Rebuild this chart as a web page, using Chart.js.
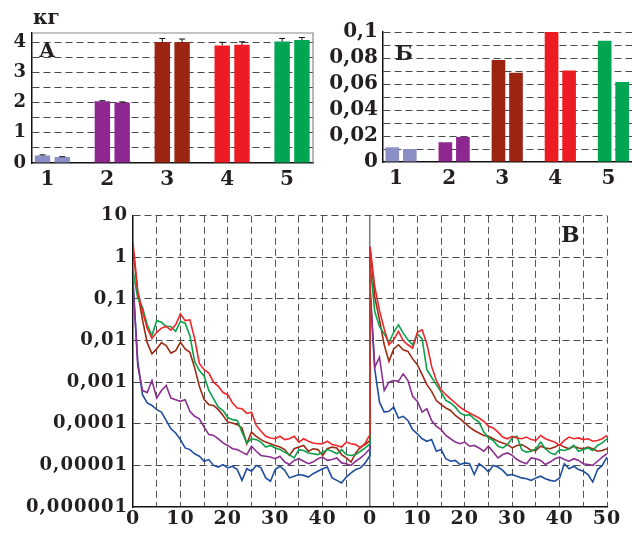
<!DOCTYPE html>
<html>
<head>
<meta charset="utf-8">
<script src="https://cdn.jsdelivr.net/npm/chart.js@4/dist/chart.umd.min.js"></script>
<style>
html, body { margin: 0; padding: 0; background: #fff; }
#wrap { position: relative; width: 632px; height: 536px; overflow: hidden; }
canvas { position: absolute; }
</style>
</head>
<body>
<div id="wrap">
  <canvas id="chartA" width="320" height="200" style="left:0;top:0"></canvas>
  <canvas id="chartB" width="312" height="200" style="left:320px;top:0"></canvas>
  <canvas id="chartC" width="632" height="336" style="left:0;top:200px"></canvas>
</div>
<script>
// ---- panels A and B: bars ----
var groups = [1, 2, 3, 4, 5];
var barColors = ['#8b8fc6', '#8e278f', '#9b2412', '#ed1c24', '#00a651'];
var massA1 = [0.25, 2.04, 4.0, 3.89, 4.02];
var massA2 = [0.2, 2.0, 4.0, 3.91, 4.07];
var errA1 = [0.02, 0.02, 0.12, 0.1, 0.1];
var errA2 = [0.01, 0.02, 0.1, 0.1, 0.08];
var massB1 = [0.0113, 0.0152, 0.0784, 0.1, 0.0933];
var massB2 = [0.0100, 0.0193, 0.0686, 0.0704, 0.0616];
var yTicksA = [0, 1, 2, 3, 4];
var yTicksB = [0, 0.02, 0.04, 0.06, 0.08, 0.1];
var yLabelsB = ['0', '0,02', '0,04', '0,06', '0,08', '0,1'];

// ---- panel C: two runs of 50 time units, values as log10 ----
var minutes = [0, 1, 2, 3, 4, 5, 6, 7, 8, 9, 10, 11, 12, 13, 14, 15, 16, 17, 18, 19, 20,
  21, 22, 23, 24, 25, 26, 27, 28, 29, 30, 31, 32, 33, 34, 35, 36, 37, 38, 39, 40,
  41, 42, 43, 44, 45, 46, 47, 48, 49, 50];

var redLog1 = [0.36, -0.8, -1.3, -1.7, -1.95, -1.8, -1.7, -1.66, -1.75, -1.62, -1.36,
  -1.52, -1.5, -1.95, -2.55, -2.7, -2.78, -3.0, -3.1, -3.25, -3.3,
  -3.5, -3.62, -3.64, -3.75, -3.72, -4.04, -4.18, -4.3, -4.34, -4.36,
  -4.3, -4.38, -4.36, -4.3, -4.44, -4.36, -4.42, -4.46, -4.48, -4.48,
  -4.42, -4.5, -4.52, -4.56, -4.44, -4.48, -4.5, -4.58, -4.46, -4.26];
var brownLog1 = [0.2, -0.85, -1.5, -2.05, -2.32, -2.2, -2.05, -2.12, -2.3, -2.24, -2.04,
  -2.2, -2.28, -2.65, -3.1, -3.42, -3.54, -3.56, -3.66, -3.8, -3.96,
  -3.98, -4.02, -4.1, -4.48, -4.2, -4.3, -4.38, -4.44, -4.48, -4.52,
  -4.56, -4.62, -4.76, -4.6, -4.56, -4.52, -4.66, -4.6, -4.62, -4.76,
  -4.6, -4.56, -4.58, -4.74, -4.82, -4.92, -4.7, -4.56, -4.5, -4.4];
var greenLog1 = [-0.32, -0.98, -1.2, -1.62, -1.88, -1.52, -1.56, -1.66, -1.66, -1.78, -1.54,
  -1.58, -1.88, -2.5, -2.72, -2.85, -3.2, -3.4, -3.6, -3.68, -3.85,
  -3.9, -3.92, -4.2, -4.46, -4.36, -4.38, -4.44, -4.56, -4.52, -4.58,
  -4.62, -4.68, -4.74, -4.82, -4.62, -4.64, -4.7, -4.72, -4.74, -4.68,
  -4.62, -4.66, -4.72, -4.62, -4.74, -4.76, -4.74, -4.66, -4.58, -4.48];
var purpleLog1 = [-0.6, -2.6, -3.2, -3.25, -2.96, -3.38, -3.2, -3.08, -3.38, -3.42, -3.46,
  -3.42, -3.7, -3.82, -3.88, -4.08, -4.26, -4.28, -4.36, -4.46, -4.52,
  -4.6, -4.62, -4.68, -4.74, -4.54, -4.66, -4.76, -4.78, -4.8, -4.84,
  -4.78, -4.92, -4.98, -4.88, -4.84, -4.9, -4.96, -4.92, -4.84, -4.8,
  -4.88, -4.86, -4.82, -4.94, -4.96, -5.0, -4.9, -4.82, -4.72, -4.6];
var blueLog1 = [-0.58, -2.5, -3.3, -3.5, -3.56, -3.66, -3.72, -3.92, -4.12, -4.22, -4.38,
  -4.58, -4.62, -4.72, -4.78, -4.9, -4.86, -5.0, -5.04, -4.98, -5.06,
  -5.02, -5.1, -5.36, -5.08, -5.14, -5.0, -5.06, -5.3, -5.38, -5.1,
  -5.02, -5.12, -5.3, -5.26, -5.22, -5.24, -5.28, -5.2, -5.14, -5.08,
  -5.04, -5.3, -5.36, -5.42, -5.28, -5.18, -5.1, -5.06, -4.94, -4.76];

var redLog2 = [0.26, -0.7, -1.28, -1.72, -2.1, -1.98, -1.78, -2.0, -2.1, -2.18, -1.8,
  -1.74, -2.08, -2.62, -2.96, -3.18, -3.3, -3.4, -3.5, -3.6, -3.68,
  -3.74, -3.8, -3.86, -3.94, -4.06, -4.1, -4.2, -4.32, -4.36, -4.3,
  -4.34, -4.36, -4.32, -4.38, -4.4, -4.28, -4.36, -4.4, -4.44, -4.52,
  -4.4, -4.32, -4.36, -4.34, -4.38, -4.36, -4.42, -4.4, -4.36, -4.28];
var brownLog2 = [0.24, -0.95, -1.5, -2.1, -2.5, -2.2, -2.1, -2.22, -2.26, -2.44, -2.58,
  -2.82, -3.06, -3.22, -3.44, -3.54, -3.62, -3.68, -3.8, -3.88, -3.98,
  -4.08, -4.16, -4.22, -4.28, -4.3, -4.36, -4.42, -4.46, -4.5, -4.58,
  -4.52, -4.5, -4.56, -4.64, -4.64, -4.54, -4.58, -4.6, -4.56, -4.5,
  -4.56, -4.6, -4.54, -4.58, -4.6, -4.56, -4.6, -4.66, -4.64, -4.6];
var greenLog2 = [-0.12, -1.3, -1.66, -1.84, -2.04, -1.8, -1.62, -1.82, -1.98, -2.1, -1.84,
  -1.96, -2.7, -2.88, -3.06, -3.24, -3.44, -3.5, -3.6, -3.74, -3.8,
  -3.78, -3.88, -3.96, -4.2, -4.34, -4.4, -4.54, -4.58, -4.5, -4.34,
  -4.3, -4.62, -4.68, -4.66, -4.6, -4.44, -4.6, -4.7, -4.74, -4.62,
  -4.64, -4.6, -4.52, -4.66, -4.62, -4.58, -4.64, -4.52, -4.46, -4.36];
var purpleLog2 = [-0.68, -2.64, -2.4, -3.2, -3.0, -2.96, -2.98, -2.8, -2.96, -3.34, -3.46,
  -3.72, -3.64, -3.92, -4.06, -4.14, -4.28, -4.36, -4.44, -4.48, -4.44,
  -4.54, -4.52, -4.58, -4.66, -4.54, -4.68, -4.82, -4.74, -4.7, -4.76,
  -4.86, -4.92, -4.96, -4.82, -4.84, -4.88, -4.98, -4.92, -4.84, -4.8,
  -4.86, -4.9, -4.84, -4.88, -4.96, -4.98, -5.0, -4.9, -4.8, -4.72];
var blueLog2 = [-0.76, -2.68, -3.48, -3.72, -3.7, -3.6, -3.86, -3.82, -3.92, -4.14, -4.24,
  -4.36, -4.42, -4.38, -4.66, -4.62, -4.84, -4.9, -4.88, -4.98, -4.94,
  -4.96, -5.22, -4.96, -5.04, -5.16, -5.0, -5.04, -5.12, -5.24, -5.22,
  -5.26, -5.3, -5.32, -5.36, -5.3, -5.26, -5.32, -5.36, -5.38, -5.3,
  -4.96, -5.08, -5.02, -5.1, -5.14, -5.22, -5.4, -5.1, -5.0, -4.8];

var yTicksC = [1e-6, 1e-5, 1e-4, 1e-3, 1e-2, 1e-1, 1, 10];
var yLabelsC = ['0,000001', '0,00001', '0,0001', '0,001', '0,01', '0,1', '1', '10'];
var xTickValuesC = [0, 10, 20, 30, 40, 50, 60, 70, 80, 90, 100];
var xTickLabelsC = ['0', '10', '20', '30', '40', '0', '10', '20', '30', '40', '50'];

var ink = '#231f20';
var gridColor = '#4a4a4a';
var dashPattern = [7, 4];
var serif = 'DejaVu Serif';

// small helpers drawn on top of the charts
var panelText = {
  id: 'panelText',
  beforeUpdate: function (chart, args, opts) { if (opts.spacing) chart.ctx.letterSpacing = opts.spacing; },
  beforeDraw: function (chart, args, opts) { if (opts.spacing) chart.ctx.letterSpacing = opts.spacing; },
  afterDraw: function (chart, args, opts) {
    var ctx = chart.ctx, area = chart.chartArea;
    ctx.save();
    if (opts.frame) {
      ctx.strokeStyle = opts.frame;
      ctx.lineWidth = 1.2;
      ctx.beginPath();
      ctx.moveTo(area.left, area.top);
      ctx.lineTo(area.right, area.top);
      ctx.lineTo(area.right, area.bottom);
      ctx.stroke();
    }
    ctx.fillStyle = ink;
    ctx.textBaseline = 'middle';
    (opts.items || []).forEach(function (it) {
      ctx.font = it.font;
      ctx.textAlign = 'left';
      ctx.fillText(it.text, it.x, it.y);
    });
    ctx.restore();
  }
};

var whiskers = {
  id: 'whiskers',
  afterDatasetsDraw: function (chart, args, opts) {
    if (!opts.errors) return;
    var ctx = chart.ctx, yScale = chart.scales.y;
    ctx.save();
    ctx.strokeStyle = '#111';
    ctx.lineWidth = 1;
    chart.data.datasets.forEach(function (ds, d) {
      chart.getDatasetMeta(d).data.forEach(function (bar, i) {
        var v = ds.data[i].y;
        var y0 = yScale.getPixelForValue(v);
        var y1 = yScale.getPixelForValue(v + opts.errors[d][i]);
        ctx.beginPath();
        ctx.moveTo(bar.x, y0);
        ctx.lineTo(bar.x, y1);
        ctx.moveTo(bar.x - 3, y1);
        ctx.lineTo(bar.x + 3, y1);
        ctx.stroke();
      });
    });
    ctx.restore();
  }
};

function pairs(xs, ys) {
  return xs.map(function (x, i) { return {x: x, y: ys[i]}; });
}

function barDataset(values) {
  return {
    data: pairs(groups, values),
    backgroundColor: barColors,
    borderWidth: 0,
    categoryPercentage: 0.66,
    barPercentage: 0.78
  };
}

function barXAxis(height) {
  return {
    type: 'linear', min: 0.66, max: 5.35, offset: false,
    ticks: { stepSize: 1, includeBounds: false, color: ink, padding: 5, labelOffset: -5,
      font: { family: serif, size: 20, weight: 'bold' } },
    grid: { display: true, drawOnChartArea: false, drawTicks: false, offset: false },
    border: { color: '#111', width: 1.5 },
    afterFit: function (s) { s.height = height; }
  };
}

// ---- A ----
new Chart(document.getElementById('chartA'), {
  type: 'bar',
  data: { datasets: [barDataset(massA1), barDataset(massA2)] },
  plugins: [panelText, whiskers],
  options: {
    responsive: false, animation: false,
    layout: { padding: { top: 33, right: 7, left: 0, bottom: 0 } },
    plugins: {
      legend: { display: false }, tooltip: { enabled: false },
      whiskers: { errors: [errA1, errA2] },
      panelText: { frame: '#8a8a8a', items: [
        { text: 'кг', x: 33, y: 19, font: 'bold 20px "DejaVu Serif"' },
        { text: 'А', x: 39, y: 52, font: 'bold 20px "DejaVu Serif"' }
      ] }
    },
    scales: {
      x: barXAxis(37),
      y: {
        min: 0, max: 4.3,
        ticks: { stepSize: 0.5, includeBounds: false, autoSkip: false, padding: 6, color: ink,
          font: { family: serif, size: 18, weight: 'bold' },
          callback: function (v) { return yTicksA.indexOf(v) >= 0 ? String(v) : ''; } },
        grid: { drawTicks: false, lineWidth: 1,
          color: function (c) { return c.tick && c.tick.value === 0 ? 'rgba(0,0,0,0)' : gridColor; } },
        border: { color: '#111', width: 1.5, dash: function (c) { return c.tick ? dashPattern : []; } },
        afterFit: function (s) { s.width = 32; }
      }
    }
  }
});

// ---- Б ----
new Chart(document.getElementById('chartB'), {
  type: 'bar',
  data: { datasets: [barDataset(massB1), barDataset(massB2)] },
  plugins: [panelText],
  options: {
    responsive: false, animation: false,
    layout: { padding: { top: 32, right: 0, left: 0, bottom: 0 } },
    plugins: {
      legend: { display: false }, tooltip: { enabled: false },
      panelText: { items: [ { text: 'Б', x: 75, y: 55, font: 'bold 21px "DejaVu Serif"' } ] }
    },
    scales: {
      x: barXAxis(38),
      y: {
        min: 0, max: 0.1,
        ticks: { stepSize: 0.01, autoSkip: false, padding: 5, color: ink,
          font: { family: serif, size: 20, weight: 'bold' },
          callback: function (v) {
            for (var k = 0; k < yTicksB.length; k++) if (Math.abs(yTicksB[k] - v) < 1e-9) return yLabelsB[k];
            return '';
          } },
        grid: { drawTicks: false, lineWidth: 1,
          color: function (c) { return c.tick && c.tick.value === 0 ? 'rgba(0,0,0,0)' : gridColor; } },
        border: { color: '#111', width: 1.5, dash: function (c) { return c.tick ? dashPattern : []; } },
        afterFit: function (s) { s.width = 63; }
      }
    }
  }
});

// ---- В ----
function runPoints(run1, run2) {
  var pts = [];
  run1.forEach(function (v, i) { pts.push({x: minutes[i], y: Math.pow(10, v)}); });
  run2.forEach(function (v, i) { pts.push({x: minutes[i] + 50, y: Math.pow(10, v)}); });
  return pts;
}
function lineDataset(color, run1, run2) {
  return { data: runPoints(run1, run2), borderColor: color, borderWidth: 1.6,
    pointRadius: 0, tension: 0, fill: false };
}

new Chart(document.getElementById('chartC'), {
  type: 'line',
  data: { datasets: [
    lineDataset('#ee2529', redLog1, redLog2),
    lineDataset('#0ba14b', greenLog1, greenLog2),
    lineDataset('#9b2a14', brownLog1, brownLog2),
    lineDataset('#8a2e91', purpleLog1, purpleLog2),
    lineDataset('#1f4e9f', blueLog1, blueLog2)
  ] },
  plugins: [panelText],
  options: {
    responsive: false, animation: false,
    layout: { padding: { top: 15, right: 25, left: 0, bottom: 0 } },
    plugins: {
      legend: { display: false }, tooltip: { enabled: false },
      panelText: { spacing: '1px', items: [ { text: 'В', x: 561, y: 36, font: 'bold 22px "DejaVu Serif"' } ] }
    },
    scales: {
      x: {
        type: 'linear', min: 0, max: 100,
        ticks: { stepSize: 5, autoSkip: false, maxRotation: 0, padding: 1, color: ink,
          font: { family: serif, size: 19, weight: 'bold' },
          callback: function (v) { var k = xTickValuesC.indexOf(v); return k < 0 ? '' : xTickLabelsC[k]; } },
        grid: { drawTicks: false,
          color: function (c) {
            if (!c.tick || c.tick.value === 0) return 'rgba(0,0,0,0)';
            return c.tick.value === 50 ? '#7a7a7a' : '#555';
          },
          lineWidth: function (c) { return c.tick && c.tick.value === 50 ? 1.5 : 1; } },
        border: { color: '#111', width: 1.5,
          dash: function (c) { return c.tick && c.tick.value !== 50 ? dashPattern : []; } },
        afterFit: function (s) { s.height = 29; }
      },
      y: {
        type: 'logarithmic', min: 1e-6, max: 10,
        afterBuildTicks: function (s) { s.ticks = yTicksC.map(function (v) { return {value: v}; }); },
        ticks: { autoSkip: false, padding: 5, color: ink,
          font: { family: serif, size: 18, weight: 'bold' },
          callback: function (v, i) { return yLabelsC[i]; } },
        grid: { drawTicks: false, lineWidth: 1,
          color: function (c) { return c.tick && c.tick.value === 1e-6 ? 'rgba(0,0,0,0)' : gridColor; } },
        border: { color: '#111', width: 1.5, dash: function (c) { return c.tick ? dashPattern : []; } },
        afterFit: function (s) { s.width = 133; }
      }
    }
  }
});
</script>
</body>
</html>
